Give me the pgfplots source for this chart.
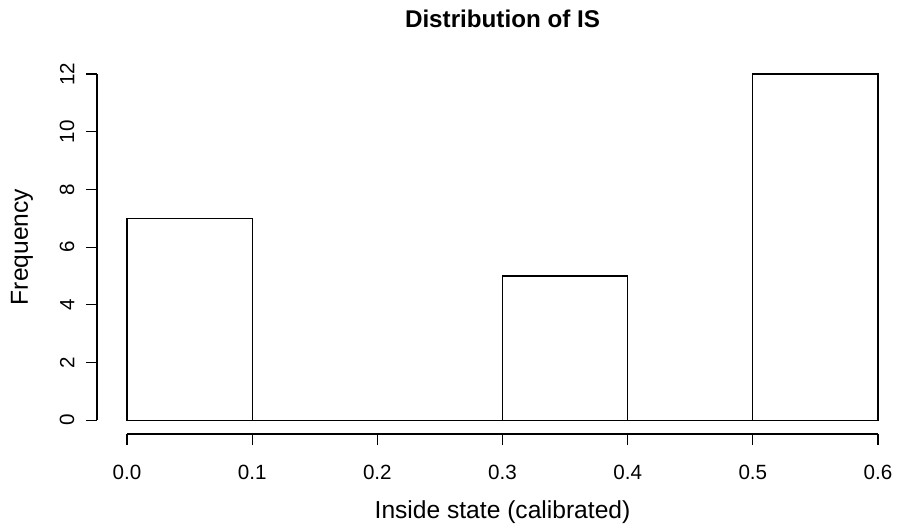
\documentclass[border=0pt]{standalone}
\usepackage{pgfplots}
\pgfplotsset{compat=1.18}
\usepackage{fontspec}
\setmainfont{Liberation Sans}
\begin{document}
\begin{tikzpicture}
\begin{axis}[
  scale only axis, width=405.5pt, height=186.9pt,
  xmin=-0.024, xmax=0.624, ymin=-0.48, ymax=12.48,
  axis x line*=bottom, axis y line*=left,
  axis line style={draw=none},
  tick align=outside, major tick length=5.5pt,
  tick style={black, line width=0.6pt},
  xtick={0,0.1,0.2,0.3,0.4,0.5,0.6},
  xticklabels={0.0,0.1,0.2,0.3,0.4,0.5,0.6},
  ytick={0,2,4,6,8,10,12},
  yticklabels={0,2,4,6,8,10,12},
  ticklabel style={font=\fontsize{10.3}{12}\selectfont},
  xticklabel shift=6.6pt,
  yticklabel style={rotate=90, anchor=south},
  yticklabel shift=2.25pt,
  clip=false,
  title={Distribution of IS},
  title style={at={(axis description cs:0.5,1.079)}, anchor=center, font=\fontsize{12.1}{14}\selectfont\bfseries},
  xlabel={Inside state (calibrated)},
  ylabel={Frequency},
  xlabel style={at={(axis description cs:0.5,-0.21)}, anchor=center, font=\fontsize{12.3}{14}\selectfont},
  ylabel style={at={(axis description cs:-0.0925,0.5)}, anchor=center, font=\fontsize{12.3}{14}\selectfont},
]
\addplot[ybar interval, fill=white, draw=black, line width=0.6pt] coordinates {
  (0,7) (0.1,0) (0.2,0) (0.3,5) (0.4,0) (0.5,12) (0.6,12)
};
\draw[line width=0.6pt] (axis cs:0,-0.48) -- (axis cs:0.6,-0.48);
\draw[line width=0.6pt] (axis cs:-0.024,0) -- (axis cs:-0.024,12);
\coordinate (ll) at (rel axis cs:0,0);
\end{axis}
\pgfresetboundingbox
\path[use as bounding box] ([shift={(-48.5pt,-45.5pt)}]ll) rectangle ([shift={(401pt,217pt)}]ll);
\end{tikzpicture}
\end{document}
